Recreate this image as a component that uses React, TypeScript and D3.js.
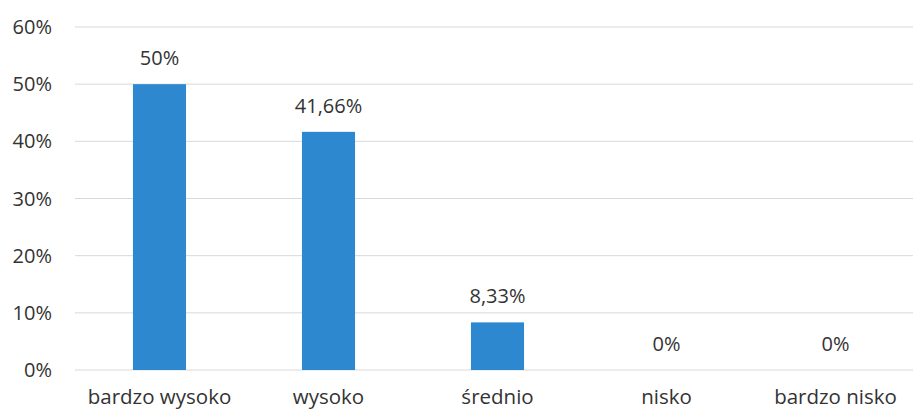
import React from "react";
import * as d3 from "d3";

const categories = ["bardzo wysoko", "wysoko", "średnio", "nisko", "bardzo nisko"];
const values = [50, 41.66, 8.33, 0, 0];
const valueLabels = ["50%", "41,66%", "8,33%", "0%", "0%"];
const yTicks = [0, 10, 20, 30, 40, 50, 60];

export default function App() {
  const W = 913;
  const H = 410;
  const x = d3
    .scaleBand<string>()
    .domain(categories)
    .range([75, 920])
    .paddingInner(0.686)
    .paddingOuter(0.343);
  const y = d3.scaleLinear().domain([0, 60]).range([370, 27]);
  const font = "'Open Sans', sans-serif";

  return (
    <svg
      width={W}
      height={H}
      style={{ position: "absolute", left: 0, top: 0, background: "#fff" }}
    >
      {yTicks.map((t) => (
        <g key={t}>
          <line x1={75} x2={W} y1={y(t)} y2={y(t)} stroke="#d9d9d9" strokeWidth={1} />
          <text
            x={52}
            y={y(t)}
            dy="0.35em"
            textAnchor="end"
            fontFamily={font}
            fontSize={20}
            fill="#333"
          >
            {t}%
          </text>
        </g>
      ))}
      {categories.map((c, i) => (
        <g key={c}>
          <rect
            x={x(c)!}
            y={y(values[i])}
            width={x.bandwidth()}
            height={y(0) - y(values[i])}
            fill="#2e88d0"
          />
          <text
            x={x(c)! + x.bandwidth() / 2}
            y={y(values[i]) - 19}
            textAnchor="middle"
            fontFamily={font}
            fontSize={20}
            fill="#333"
          >
            {valueLabels[i]}
          </text>
          <text
            x={x(c)! + x.bandwidth() / 2}
            y={404}
            textAnchor="middle"
            fontFamily={font}
            fontSize={20.5}
            fill="#333"
          >
            {c}
          </text>
        </g>
      ))}
    </svg>
  );
}
